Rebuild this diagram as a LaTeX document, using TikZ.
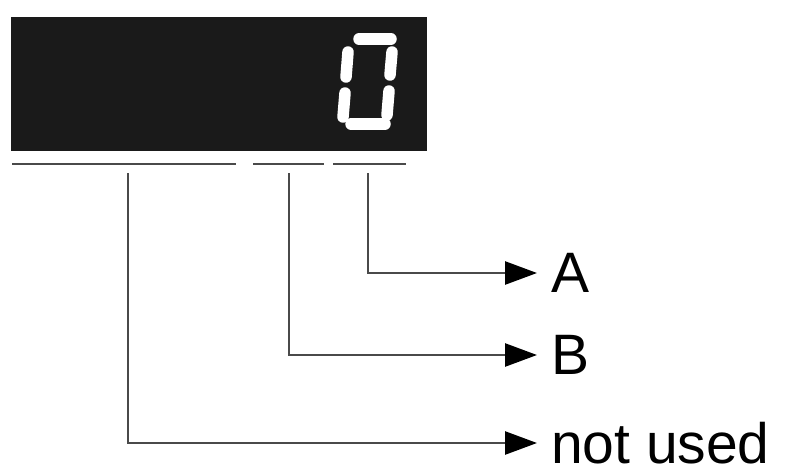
\documentclass[tikz,border=0pt]{standalone}
\usepackage{fontspec}
\setmainfont{Liberation Sans}
\usetikzlibrary{arrows.meta}
\definecolor{lcd}{HTML}{1A1A1A}
\definecolor{wire}{HTML}{4A4A4A}
\begin{document}
\begin{tikzpicture}[x=1pt,y=-1pt,
  seg/.style={white,line width=11.5pt,line cap=round},
  bar/.style={wire,line width=2.6pt},
  wireline/.style={wire,line width=2.6pt},
  arr/.style={wireline,-{Triangle[length=32pt,width=23pt,black]}},
  lbl/.style={anchor=west,inner xsep=14pt,inner ysep=0pt,outer sep=0pt,font=\fontsize{57}{58}\selectfont}]
\useasboundingbox[fill=white] (0,0) rectangle (786,469);
% display
\node[fill=lcd,inner sep=0,minimum width=416pt,minimum height=134pt,anchor=north west] (disp) at (11,17) {};
% seven-segment 0
\draw[seg] (359,39) -- (391,39);
\draw[seg] (348,52) -- (346,77);
\draw[seg] (392,52) -- (390,75);
\draw[seg] (345,93) -- (343,117);
\draw[seg] (389,91) -- (387,115);
\draw[seg] (351,124) -- (385,124);
% bars under the display
\draw[bar] (12,164) -- (236,164);
\draw[bar] (253,164) -- (324,164);
\draw[bar] (333,164) -- (406,164);
% taps
\coordinate (tapN) at (128,173);
\coordinate (tapB) at (289,173);
\coordinate (tapA) at (368,173);
% labels
\node[lbl] (A) at (537,273) {A};
\node[lbl] (B) at (537,355) {B};
\node[lbl] (N) at (537,443) {not used};
% connectors
\draw[arr] (tapA) |- (A.west);
\draw[arr] (tapB) |- (B.west);
\draw[arr] (tapN) |- (N.west);
\end{tikzpicture}
\end{document}
